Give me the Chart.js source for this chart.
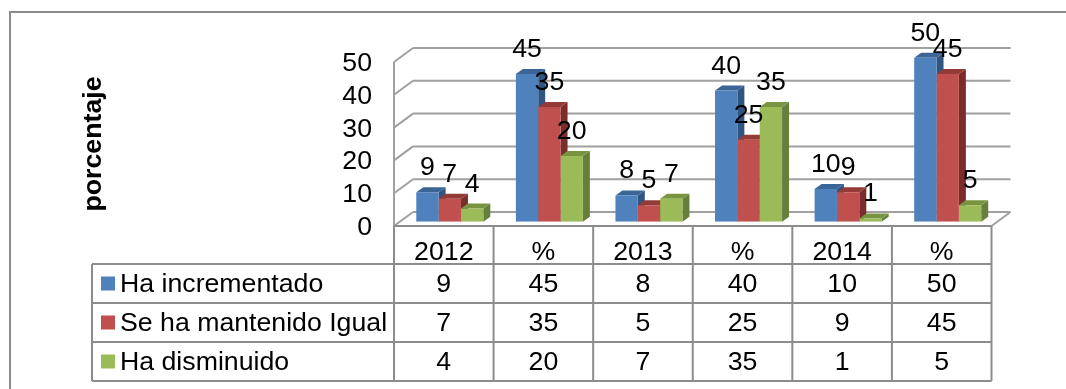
<!DOCTYPE html>
<html>
<head>
<meta charset="utf-8">
<script src="https://cdn.jsdelivr.net/npm/chart.js@4/dist/chart.umd.min.js"></script>
<style>
  html, body { margin: 0; padding: 0; background: #fff; }
  #wrap { position: relative; width: 1066px; height: 389px; }
</style>
</head>
<body>
<div id="wrap"><canvas id="grafica" width="1066" height="389"></canvas></div>
<script>
const categorias = ["2012", "%", "2013", "%", "2014", "%"];
const incrementado = [9, 45, 8, 40, 10, 50];
const mantenido = [7, 35, 5, 25, 9, 45];
const disminuido = [4, 20, 7, 35, 1, 5];
const ticksY = [0, 10, 20, 30, 40, 50];

const FUENTE = '"Liberation Sans", Arial, sans-serif';
const TAM = 26.7;
const GRIS = "#a0a0a0";
const GRIS_TABLA = "#8c8c8c";
const DX = 7, DY = 5;      // fondo de cada barra
const PARED_X = 19, PARED_Y = 14;  // pared lateral
const BASE = 4.3;          // el piso esta un poco debajo de las barras
const CELDA_X = -6;        // la tabla va corrida respecto a las barras
const filasY = [264, 303, 342, 381];

const series = [
  { nombre: "Ha incrementado", datos: incrementado, color: "#4f81bd", tapa: "#3b6597", lado: "#2f5580" },
  { nombre: "Se ha mantenido Igual", datos: mantenido, color: "#c0504d", tapa: "#943b38", lado: "#7a2e2c" },
  { nombre: "Ha disminuido", datos: disminuido, color: "#9bbb59", tapa: "#789440", lado: "#667f3a" }
];

function linea(c, x1, y1, x2, y2) {
  c.beginPath();
  c.moveTo(x1, y1);
  c.lineTo(x2, y2);
  c.stroke();
}

function poligono(c, pts, color) {
  c.fillStyle = color;
  c.beginPath();
  pts.forEach((p, i) => i ? c.lineTo(p[0], p[1]) : c.moveTo(p[0], p[1]));
  c.closePath();
  c.fill();
}

const marco3d = {
  id: "marco3d",
  beforeDatasetsDraw(chart) {
    const c = chart.ctx, y = chart.scales.y, x = chart.scales.x;
    const izq = x.left + CELDA_X, der = x.right + CELDA_X;
    c.save();

    // marco exterior, sigue fuera de la imagen
    c.strokeStyle = GRIS_TABLA;
    c.lineWidth = 2;
    c.beginPath();
    c.moveTo(10, 389);
    c.lineTo(10, 12);
    c.lineTo(1066, 12);
    c.stroke();

    // paredes
    c.strokeStyle = GRIS;
    y.ticks.forEach(t => {
      const py = y.getPixelForValue(t.value) + BASE;
      linea(c, izq, py, izq + PARED_X, py - PARED_Y);
      linea(c, izq + PARED_X, py - PARED_Y, der + PARED_X, py - PARED_Y);
    });
    const y0 = y.getPixelForValue(0) + BASE;
    linea(c, izq, y.getPixelForValue(50) + BASE, izq, y0);
    linea(c, der, y0, der + PARED_X, y0 - PARED_Y);

    // caras de fondo de las barras
    chart.data.datasets.forEach((ds, i) => {
      chart.getDatasetMeta(i).data.forEach(b => {
        const l = b.x - b.width / 2, r = b.x + b.width / 2;
        poligono(c, [[r, b.y], [r + DX, b.y - DY], [r + DX, b.base - DY], [r, b.base]], series[i].lado);
        poligono(c, [[l, b.y], [l + DX, b.y - DY], [r + DX, b.y - DY], [r, b.y]], series[i].tapa);
      });
    });
    c.restore();
  },
  afterDraw(chart) {
    const c = chart.ctx, x = chart.scales.x;
    const izq = x.left + CELDA_X;
    const ancho = x.width / categorias.length;
    c.save();

    // titulo del eje, centrado un poco mas abajo que el area
    c.save();
    c.translate(100.5, 144);
    c.rotate(-Math.PI / 2);
    c.font = "bold " + TAM + "px " + FUENTE;
    c.fillStyle = "#000";
    c.textAlign = "center";
    c.textBaseline = "alphabetic";
    c.fillText("porcentaje", 0, 0);
    c.restore();

    // etiquetas de datos
    c.font = TAM + "px " + FUENTE;
    c.fillStyle = "#000";
    c.textAlign = "center";
    c.textBaseline = "alphabetic";
    chart.data.datasets.forEach((ds, i) => {
      chart.getDatasetMeta(i).data.forEach((b, j) => {
        c.fillText(String(ds.data[j]), b.x, b.y - 17);
      });
    });

    // tabla de datos
    c.strokeStyle = GRIS_TABLA;
    c.lineWidth = 2;
    const arriba = chart.scales.y.getPixelForValue(0) + BASE;
    for (let k = 0; k <= categorias.length; k++) {
      linea(c, izq + k * ancho, arriba, izq + k * ancho, filasY[3]);
    }
    filasY.forEach(fy => linea(c, 92, fy, izq + categorias.length * ancho, fy));
    linea(c, 92, filasY[0], 92, filasY[3]);
    linea(c, izq, arriba, izq + categorias.length * ancho, arriba);

    series.forEach((s, i) => {
      const medio = (filasY[i] + filasY[i + 1]) / 2;
      c.fillStyle = s.color;
      c.fillRect(101, medio - 7, 14, 14);
      c.fillStyle = "#000";
      c.textAlign = "left";
      c.textBaseline = "middle";
      c.fillText(s.nombre, 120, medio + 1);
      c.textAlign = "center";
      s.datos.forEach((v, j) => {
        c.fillText(String(v), izq + (j + 0.5) * ancho, medio + 1);
      });
    });
    c.restore();
  }
};

new Chart(document.getElementById("grafica"), {
  type: "bar",
  data: {
    labels: categorias,
    datasets: series.map(s => ({
      label: s.nombre,
      data: s.datos,
      backgroundColor: s.color,
      borderWidth: 0
    }))
  },
  options: {
    responsive: false,
    animation: false,
    layout: { padding: { left: 0, right: 68.5, top: 57.7, bottom: 0 } },
    datasets: { bar: { categoryPercentage: 0.673, barPercentage: 1 } },
    plugins: { legend: { display: false }, tooltip: { enabled: false } },
    scales: {
      x: {
        grid: { display: false },
        border: { display: false },
        afterFit(s) { s.height = 167.3; },
        ticks: {
          autoSkip: false,
          maxRotation: 0,
          color: "#000",
          font: { size: TAM, family: FUENTE },
          padding: 7,
          labelOffset: CELDA_X
        }
      },
      y: {
        min: 0,
        max: 50,
        grid: { display: false },
        border: { display: false },
        afterFit(s) { s.width = 400; },
        afterBuildTicks(s) { s.ticks = ticksY.map(v => ({ value: v })); },
        ticks: {
          autoSkip: false,
          color: "#000",
          font: { size: TAM, family: FUENTE },
          padding: 20,
          labelOffset: 6
        }
      }
    }
  },
  plugins: [marco3d]
});
</script>
</body>
</html>
